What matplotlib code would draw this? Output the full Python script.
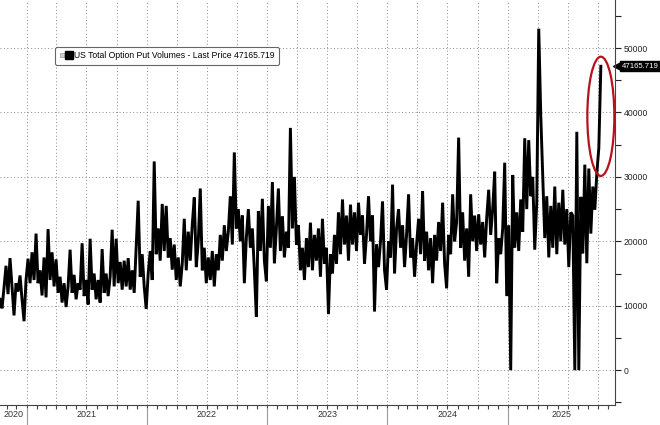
import numpy as np
import pandas as pd
import matplotlib
matplotlib.use("Agg")
import matplotlib.pyplot as plt
import matplotlib.dates as mdates
from matplotlib.patches import Ellipse
from matplotlib.lines import Line2D
from matplotlib.legend_handler import HandlerTuple
from matplotlib.ticker import MultipleLocator, NullFormatter
from matplotlib.transforms import blended_transform_factory

# Dados (em milhares de contratos)
START = "2020-10-12"
END = "2025-10-10"
put_vol_k = [
    11.0, 9.6, 12.8, 16.2, 11.8, 17.4, 13.0, 8.5, 13.5, 12.2, 14.7, 11.0, 7.6, 14.0, 17.3, 13.5,
    18.3, 14.0, 21.2, 13.5, 15.5, 11.6, 17.5, 11.3, 21.9, 14.0, 18.3, 13.0, 17.2, 12.0, 14.5, 10.5,
    13.5, 9.8, 13.0, 18.7, 12.0, 14.8, 11.0, 13.5, 12.5, 19.7, 11.5, 14.0, 10.2, 20.4, 12.5, 15.0,
    11.0, 14.0, 10.5, 18.8, 12.0, 15.0, 11.5, 14.5, 21.8, 13.0, 20.4, 13.5, 16.8, 12.5, 17.0,
    # 2021-2022
    13.0, 17.4, 12.5, 15.5, 12.0, 19.0, 26.3, 14.5, 18.0, 13.0, 9.5, 15.0, 18.5, 14.0, 32.4, 18.0,
    22.0, 17.0, 25.8, 18.5, 25.5, 17.5, 20.5, 15.6, 19.5, 14.0, 17.5, 13.0, 16.5, 23.5, 15.5, 21.5,
    17.0, 22.6, 26.8, 16.0, 20.0, 28.2, 15.5, 19.0, 13.5, 17.5, 14.0, 18.5, 13.0, 18.0, 15.5, 21.0,
    17.0, 22.5, 18.5, 21.5, 27.0, 19.5, 33.8, 22.0, 25.0, 20.0, 24.0, 13.5,
    # 2022-2023
    20.5, 25.0, 19.0, 22.0, 15.5, 8.3, 24.7, 18.5, 26.6, 17.0, 13.8, 25.5, 19.0, 29.2, 16.6, 22.0,
    28.2, 18.5, 23.9, 17.5, 21.5, 19.0, 37.6, 22.0, 30.0, 19.5, 22.5, 15.5, 19.0, 14.0, 20.5, 16.0,
    22.9, 15.5, 21.0, 17.0, 22.0, 14.5, 23.5, 16.5, 19.0, 8.7, 18.0, 15.0, 21.0, 16.5, 24.5, 18.0,
    26.5, 19.5, 24.0, 17.0, 25.7, 19.5, 24.5, 18.5, 26.0, 21.0, 24.0, 16.5,
    # 2023-2024
    21.0, 27.0, 20.0, 24.0, 9.1, 19.5, 16.0, 20.0, 26.2, 15.5, 12.5, 20.0, 17.5, 28.8, 15.0, 22.0,
    25.0, 19.0, 22.5, 16.0, 21.0, 27.3, 17.5, 20.5, 14.5, 19.5, 23.5, 18.0, 27.8, 17.0, 21.5, 15.5,
    20.5, 13.5, 21.0, 17.0, 23.0, 18.5, 26.0, 16.5, 12.7, 21.0, 18.0, 27.3, 20.0, 23.0, 36.1, 19.0,
    24.5, 17.0, 22.0, 14.5, 27.3, 20.0, 24.0, 18.5, 24.2, 19.5, 23.0, 17.5,
    # 2024-2025
    23.6, 28.0, 21.0, 25.0, 30.8, 13.5, 20.5, 18.0, 22.0, 32.2, 11.5, 22.5, 0.0, 30.3, 19.0, 24.5,
    18.5, 26.5, 21.5, 36.0, 25.0, 35.7, 27.0, 30.0, 18.7, 26.0, 53.0, 39.6, 30.0, 20.5, 27.0, 17.5,
    25.5, 19.0, 28.5, 18.0, 26.0, 20.0, 28.0, 19.5, 25.0, 16.0, 24.5, 24.0, 0.0, 37.0, 0.0, 26.9,
    18.1, 31.9, 16.6, 31.3, 21.2, 28.5, 24.9, 30.6, 34.5, 47.165719,
]
LAST_PRICE = 47165.719
years = [2020, 2021, 2022, 2023, 2024, 2025]
y_ticks = [0, 10000, 20000, 30000, 40000, 50000]

X_MIN = pd.Timestamp("2020-10-12")
X_MAX = pd.Timestamp("2025-11-22")


def main():
    plt.rcParams['font.family'] = ['Liberation Sans', 'DejaVu Sans']

    dates = pd.date_range(START, END, periods=len(put_vol_k))
    vol = np.array(put_vol_k) * 1000

    W, H = 660, 425
    fig = plt.figure(figsize=(W / 100, H / 100), dpi=100)
    ax = fig.add_axes([0, 1 - 405 / H, 615 / W, 405 / H])

    ax.plot(dates, vol, color='black', lw=2.1, zorder=3, solid_joinstyle='miter')

    ax.set_xlim(X_MIN, X_MAX)
    ax.set_ylim(-5400, 57450)

    # eixo y à direita
    ax.yaxis.tick_right()
    ax.set_yticks(y_ticks)
    ax.yaxis.set_minor_locator(MultipleLocator(5000))
    ax.tick_params(axis='y', which='both', direction='out', length=4, width=0.8,
                   labelsize=6.2, colors='#222222', pad=2)

    # eixo x: grade trimestral, ticks mensais
    ax.xaxis.set_major_locator(mdates.MonthLocator(bymonth=[1, 4, 7, 10]))
    ax.xaxis.set_minor_locator(mdates.MonthLocator())
    ax.xaxis.set_major_formatter(NullFormatter())
    ax.tick_params(axis='x', which='both', direction='out', length=3, width=0.8, colors='#444444')

    ax.grid(True, which='major', linestyle=(0, (1, 2.5)), color='#8a8a8a', lw=0.7)

    for side in ['left', 'top']:
        ax.spines[side].set_visible(False)
    for side in ['right', 'bottom']:
        ax.spines[side].set_color('#444444')
        ax.spines[side].set_linewidth(0.8)

    # rótulos dos anos com separadores
    xtr = ax.get_xaxis_transform()
    for yr in years:
        a = max(pd.Timestamp(f"{yr}-01-01"), X_MIN)
        b = min(pd.Timestamp(f"{yr + 1}-01-01"), X_MAX)
        mid = a + (b - a) / 2
        ax.text(mid, -0.024, str(yr), transform=xtr, ha='center', va='center',
                fontsize=6.5, color='#333333', clip_on=False)
        if pd.Timestamp(f"{yr}-01-01") > X_MIN:
            ax.plot([pd.Timestamp(f"{yr}-01-01")] * 2, [-0.008, -0.05], transform=xtr,
                    color='#9a9a9a', lw=0.8, clip_on=False)

    # legenda
    h_icon = Line2D([], [], ls='none', marker='s', ms=3, mfc='#d0d0d0', mec='#999999', mew=0.5)
    h_sq = Line2D([], [], ls='none', marker='s', ms=6, color='black')
    leg = ax.legend([(h_icon, h_sq)],
                    [f'US Total Option Put Volumes - Last Price {LAST_PRICE}'],
                    handler_map={tuple: HandlerTuple(ndivide=None, pad=0.15)},
                    loc='upper left', bbox_to_anchor=(55 / 615, 1 - 47 / 405),
                    fontsize=6.2, frameon=True, fancybox=True, framealpha=1,
                    edgecolor='#666666', handlelength=1.4, handletextpad=0.3,
                    borderpad=0.5, borderaxespad=0)
    leg.get_frame().set_linewidth(0.8)

    # caixa do último preço
    trans = blended_transform_factory(ax.transAxes, ax.transData)
    ax.plot([1.0 + 3 / 615], [LAST_PRICE], marker='<', ms=7, color='black',
            transform=trans, clip_on=False)
    ax.text(1.0 + 7 / 615, LAST_PRICE, f'{LAST_PRICE}', transform=trans, color='white',
            fontsize=5.6, va='center', ha='left', clip_on=False,
            bbox=dict(boxstyle='square,pad=0.2', fc='black', ec='black'))

    # elipse vermelha em torno do último pico
    ell = Ellipse((mdates.date2num(dates[-1]), 39400), width=82, height=18500,
                  fill=False, ec='#b5121b', lw=1.6, zorder=4)
    ax.add_patch(ell)

    fig.savefig("out.png", dpi=100)


if __name__ == "__main__":
    main()
